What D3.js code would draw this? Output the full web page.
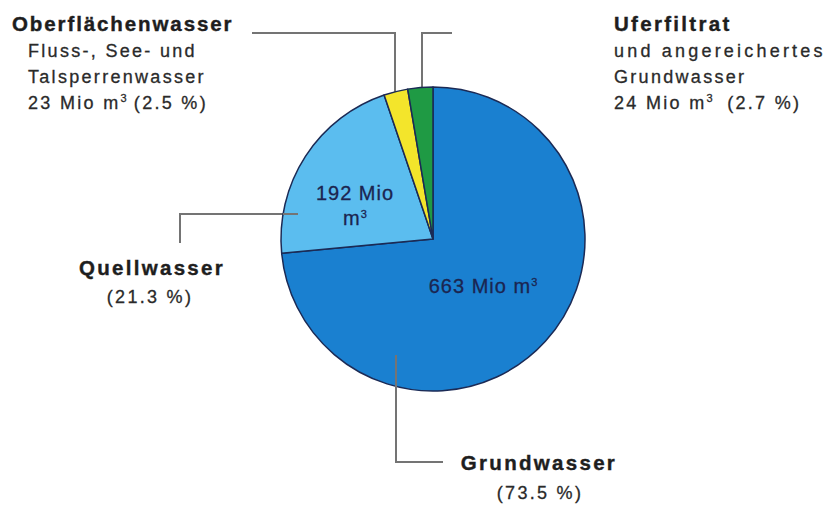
<!DOCTYPE html>
<html>
<head>
<meta charset="utf-8">
<script src="https://cdn.jsdelivr.net/npm/d3@7"></script>
<style>
  body { margin: 0; background: #fff; }
  svg { display: block; font-family: "Liberation Sans", Arial, sans-serif; }
  .title { font-weight: bold; font-size: 20.5px; fill: #1e1e1e; letter-spacing: 2.3px; stroke: #1e1e1e; stroke-width: 0.4px; }
  .sub { font-size: 18px; fill: #2a2a2a; letter-spacing: 2.3px; stroke: #2a2a2a; stroke-width: 0.3px; }
  .inlabel { font-size: 20px; fill: #1b2550; letter-spacing: 1px; stroke: #1b2550; stroke-width: 0.3px; }
  .leader { fill: none; stroke: #747474; stroke-width: 2; }
</style>
</head>
<body>
<div id="chart"></div>
<script>
// Water sources, in million m3
var sources = ["Grundwasser", "Quellwasser", "Oberflächenwasser", "Uferfiltrat"];
var volumes = [663, 192, 23, 24];
var percents = ["73.5", "21.3", "2.5", "2.7"];
var colors = ["#1a80d0", "#5bbdef", "#f3e52b", "#1f9a44"];

var width = 829, height = 505;
var cx = 433, cy = 239, radius = 152;

var svg = d3.select("#chart")
    .append("svg")
    .attr("width", width)
    .attr("height", height);

var color = d3.scaleOrdinal()
    .domain(sources)
    .range(colors);

var pie = d3.pie()
    .sort(null)
    .value(function (d, i) { return volumes[i]; });

var arc = d3.arc()
    .innerRadius(0)
    .outerRadius(radius);

// leader lines first so the pie sits over their ends
var leaders = [
    [[252, 33], [395, 33], [395, 95]],
    [[452, 33], [422, 33], [422, 92]],
    [[180, 243], [180, 214], [298, 214]],
    [[396, 355], [396, 462], [443, 462]]
];
svg.selectAll(".leader")
    .data(leaders)
    .enter()
    .append("path")
    .attr("class", "leader")
    .attr("d", d3.line());

var g = svg.append("g")
    .attr("transform", "translate(" + cx + "," + cy + ")");

g.selectAll(".arc")
    .data(pie(sources))
    .enter()
    .append("path")
    .attr("class", "arc")
    .attr("d", arc)
    .style("fill", function (d) { return color(d.data); })
    .style("stroke", "#1b2a55")
    .style("stroke-width", 1.5)
    .style("stroke-linejoin", "round");

// redraw the two leader ends that run into the pie
svg.append("path").attr("class", "leader")
    .attr("d", d3.line()([[283, 214], [298, 214]]));
svg.append("path").attr("class", "leader")
    .attr("d", d3.line()([[396, 355], [396, 392]]));

// helper for text, "³" becomes a raised small 3
function addText(x, y, cls, parts, anchor, ls) {
    var t = svg.append("text")
        .attr("class", cls)
        .attr("x", x)
        .attr("y", y)
        .attr("text-anchor", anchor || "start");
    if (ls !== undefined) t.style("letter-spacing", ls + "px");
    parts.forEach(function (p) {
        if (p === "³") {
            t.append("tspan").text("3")
                .attr("baseline-shift", "7px")
                .style("font-size", "11px")
                .style("letter-spacing", "0px");
        } else {
            t.append("tspan").text(p);
        }
    });
    return t;
}

// Oberflächenwasser
addText(12, 31, "title", [sources[2]], "start", 1.9);
addText(28, 57, "sub", ["Fluss-, See- und"]);
addText(28, 83, "sub", ["Talsperrenwasser"]);
addText(28, 109, "sub", [volumes[2] + " Mio m", "³", " (" + percents[2] + " %)"]);

// Uferfiltrat
addText(614, 31, "title", [sources[3]]);
addText(614, 57, "sub", ["und angereichertes"], "start", 3.2);
addText(614, 83, "sub", ["Grundwasser"]);
addText(614, 109, "sub", [volumes[3] + " Mio m", "³", "\u00a0\u00a0(" + percents[3] + " %)"]);

// Quellwasser
addText(152, 275, "title", [sources[1]], "middle");
addText(150, 303, "sub", ["(" + percents[1] + " %)"], "middle");

// Grundwasser
addText(539, 470, "title", [sources[0]], "middle");
addText(540, 499, "sub", ["(" + percents[0] + " %)"], "middle");

// values inside the slices
addText(355, 200, "inlabel", [volumes[1] + " Mio"], "middle");
addText(355, 225, "inlabel", ["m", "³"], "middle");
addText(483, 293, "inlabel", [volumes[0] + " Mio m", "³"], "middle");
</script>
</body>
</html>
